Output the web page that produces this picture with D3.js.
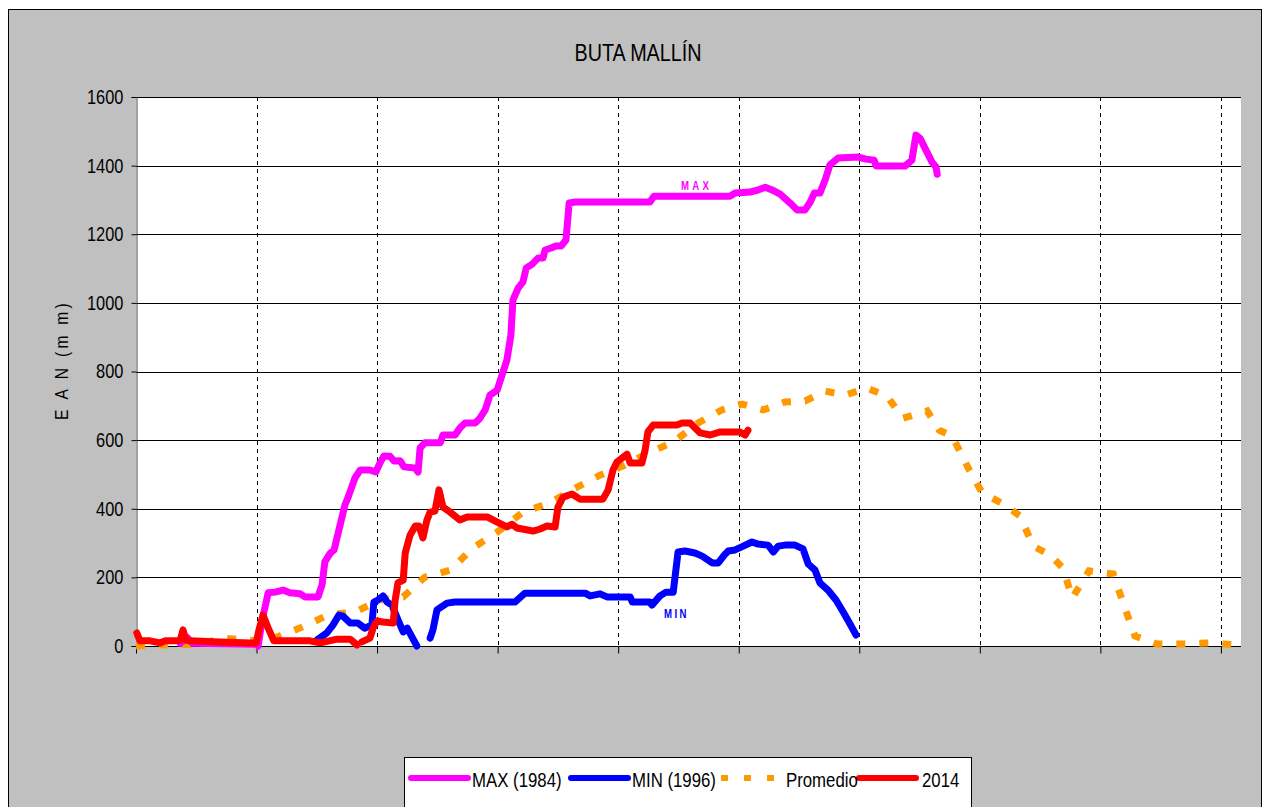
<!DOCTYPE html>
<html>
<head>
<meta charset="utf-8">
<script src="https://cdn.jsdelivr.net/npm/d3@7"></script>
<style>
  body { margin: 0; background: #fff; }
  svg text { font-family: "Liberation Sans", Arial, sans-serif; }
</style>
</head>
<body>
<svg id="chart"></svg>
<script>
// day of season (0 = start), EAN in mm
let maxDays = [11, 12.7, 14, 29.8, 30.4, 31.4, 32.9, 34.6, 36.6, 38.3, 40.8, 42.1, 45.3, 46.3, 47.0, 48.3, 49.3, 50.8, 52.0, 52.8, 54.5, 55.8, 58.2, 59.7, 60.7, 61.7, 63.2, 64.2, 65.7, 66.7, 69.4, 70.2, 70.7, 71.9, 75.7, 76.4, 79.4, 80.6, 81.9, 84.4, 85.6, 86.9, 88.1, 89.9, 91.1, 92.3, 93.3, 93.8, 95.1, 96.3, 97.1, 98.6, 100.1, 101.3, 101.8, 103.3, 104.5, 105.8, 107.0, 107.8, 109.3, 127.9, 128.9, 147.8, 149.1, 152.8, 154.8, 156.6, 158.3, 160.3, 162.8, 164.5, 166.5, 167.8, 168.8, 170.2, 171.5, 172.7, 174.7, 179.7, 181.7, 183.7, 184.2, 191.4, 193.1, 194.1, 195.1, 196.6, 198.1, 199.1, 199.4];
let maxVals = [8, 25, 8, 5, 0, 76, 155, 157, 163, 155, 152, 143, 143, 178, 245, 270, 280, 353, 411, 434, 490, 513, 513, 507, 533, 554, 553, 539, 540, 522, 519, 507, 577, 592, 592, 615, 615, 635, 650, 650, 664, 688, 731, 746, 790, 833, 906, 1008, 1043, 1061, 1101, 1113, 1131, 1131, 1154, 1160, 1166, 1166, 1183, 1291, 1294, 1294, 1311, 1311, 1320, 1323, 1329, 1337, 1329, 1317, 1291, 1271, 1271, 1294, 1320, 1320, 1358, 1402, 1422, 1425, 1419, 1416, 1399, 1399, 1416, 1489, 1480, 1445, 1410, 1396, 1375];

let minDays = [45.0, 47.5, 49.0, 50.5, 51.5, 53.3, 55.2, 56.9, 58.7, 59.2, 60.2, 61.5, 62.5, 63.7, 65.2, 66.5, 67.5, 68.7, 69.9, null, 73.2, 73.9, 74.9, 77.4, 79.4, 94.3, 96.8, 111.8, 113.0, 115.5, 117.2, 123.0, 123.5, 127.9, 128.4, 130.4, 131.9, 133.7, 134.9, 136.6, 139.1, 140.9, 143.4, 144.9, 146.4, 147.4, 149.1, 150.6, 153.3, 154.8, 157.3, 158.6, 159.8, 161.5, 164.0, 166.0, 167.3, 169.0, 170.2, 172.2, 174.2, 176.0, 177.7, 179.2];
let minVals = [17, 38, 61, 90, 87, 67, 67, 52, 61, 128, 134, 146, 128, 119, 76, 41, 52, 26, 0, null, 23, 47, 105, 125, 128, 128, 154, 154, 146, 152, 143, 143, 128, 128, 119, 146, 157, 157, 274, 277, 271, 262, 242, 242, 265, 277, 280, 288, 303, 297, 294, 274, 291, 294, 294, 283, 239, 221, 184, 163, 134, 99, 64, 32];

let avgDays = [0, 6.0, 15.9, 21.7, 27.6, 30.9, 35.1, 41.3, 47.8, 54.5, 60.7, 66.5, 71.9, 78.2, 83.9, 89.9, 96.3, 103.0, 109.3, 115.5, 121.7, 127.9, 133.7, 139.9, 145.8, 150.8, 156.1, 161.5, 166.5, 171.5, 176.5, 181.9, 186.9, 190.9, 196.9, 199.9, 203.1, 207.1, 210.6, 215.8, 220.0, 223.3, 227.5, 230.7, 233.0, 237.2, 243.2, 245.6, 248.6, 254.1, 260.6, 267.3, 273.8];
let avgVals = [0, 3, 5, 23, 17, 15, 26, 55, 90, 99, 134, 143, 201, 221, 286, 332, 390, 417, 460, 498, 527, 565, 594, 650, 688, 705, 688, 711, 714, 743, 731, 752, 728, 664, 685, 629, 612, 519, 446, 414, 379, 291, 265, 227, 140, 219, 210, 128, 29, 6, 6, 9, 3];

let y2014Days = [0.2, 1.0, 3.5, 6.0, 7.2, 9.7, 11.0, 11.7, 12.4, 13.4, 20.9, 28.4, 29.9, 30.6, 31.6, 32.9, 34.3, 37.1, 43.3, 45.8, 47.0, 50.0, 53.3, 55.0, null, 56.2, 58.2, 59.0, 60.0, 61.5, 64.0, 64.5, 65.2, 66.5, 67.0, 68.2, 69.5, 70.4, 71.4, 72.4, 73.2, 74.4, 75.4, 76.4, 78.2, 80.6, 82.4, 87.4, 89.9, 92.3, 93.6, 94.8, 98.8, 100.6, 102.3, 104.3, 105.0, 106.3, 108.5, 110.5, 116.2, 117.5, 118.7, 119.7, 122.2, 123.0, 125.9, 126.7, 127.4, 128.7, 134.6, 135.9, 137.9, 140.4, 142.9, 145.4, 150.3, 151.6, 152.3];
let y2014Vals = [38, 15, 15, 9, 15, 15, 17, 47, 17, 15, 12, 9, 9, 47, 90, 52, 15, 15, 15, 9, 12, 20, 20, 3, null, 12, 23, 52, 73, 70, 67, 134, 184, 192, 271, 323, 350, 350, 315, 367, 390, 393, 455, 405, 390, 367, 376, 376, 361, 347, 355, 344, 335, 341, 350, 347, 405, 434, 443, 428, 428, 455, 513, 536, 559, 533, 533, 571, 624, 644, 644, 650, 650, 621, 615, 624, 624, 615, 629];

let yTicks = [0, 200, 400, 600, 800, 1000, 1200, 1400, 1600];
let xTicks = [0, 30, 60, 90, 120, 150, 180, 210, 240, 270];
let seriesNames = ["MAX (1984)", "MIN (1996)", "Promedio", "2014"];
let seriesColors = ["#ff00ff", "#0000ff", "#ff9900", "#ff0000"];

let W = 1264, H = 807;
let mLeft = 136, mRight = 1241, mTop = 97, mBottom = 646;
let narrow = 0.82; // condensed look of the original text

let svg = d3.select("#chart").attr("width", W).attr("height", H);

svg.append("rect").attr("x", 8.5).attr("y", 9.5).attr("width", 1253).attr("height", 810)
  .attr("fill", "#c0c0c0").attr("stroke", "#000").attr("stroke-width", 1);

let x = d3.scaleLinear().domain([0, 275]).range([mLeft, mRight]);
let y = d3.scaleLinear().domain([0, 1600]).range([mBottom, mTop]);

svg.append("rect").attr("x", mLeft).attr("y", mTop).attr("width", mRight - mLeft).attr("height", mBottom - mTop)
  .attr("fill", "#fff");

// horizontal grid
svg.append("g").selectAll("line").data(yTicks.slice(1)).enter().append("line")
  .attr("x1", mLeft).attr("x2", mRight)
  .attr("y1", d => Math.round(y(d)) + 0.5).attr("y2", d => Math.round(y(d)) + 0.5)
  .attr("stroke", "#000").attr("stroke-width", 1);

// vertical dashed grid
svg.append("g").selectAll("line").data(xTicks.slice(1)).enter().append("line")
  .attr("x1", d => Math.round(x(d)) + 0.5).attr("x2", d => Math.round(x(d)) + 0.5)
  .attr("y1", mTop).attr("y2", mBottom)
  .attr("stroke", "#000").attr("stroke-width", 1).attr("stroke-dasharray", "4,4");

// axes
let yAxis = d3.axisLeft(y).tickValues(yTicks).tickSize(5).tickPadding(11).tickFormat(d3.format("d"));
let gy = svg.append("g").attr("transform", "translate(" + (mLeft + 0.5) + ",0)").call(yAxis);
gy.select(".domain").attr("stroke", "#444");
gy.selectAll("text").attr("font-size", 20).attr("fill", "#000")
  .attr("transform", "scale(" + narrow + ",1)");

let xAxis = d3.axisBottom(x).tickValues(xTicks).tickSize(7).tickFormat("");
let gx = svg.append("g").attr("transform", "translate(0," + (mBottom + 0.5) + ")").call(xAxis);
gx.select(".domain").attr("d", "M" + mLeft + ",0H" + mRight).attr("stroke", "#000");

// lines
let line = d3.line()
  .defined(d => d[1] !== null)
  .x(d => x(d[0]))
  .y(d => y(d[1]));

function pairs(xs, ys) { return xs.map((d, i) => [d, ys[i]]); }

let plot = svg.append("g");
plot.append("path").datum(pairs(avgDays, avgVals)).attr("d", line)
  .attr("fill", "none").attr("stroke", seriesColors[2]).attr("stroke-width", 7)
  .attr("stroke-dasharray", "9,14");
plot.append("path").datum(pairs(maxDays, maxVals)).attr("d", line)
  .attr("fill", "none").attr("stroke", seriesColors[0]).attr("stroke-width", 7)
  .attr("stroke-linejoin", "round").attr("stroke-linecap", "round");
plot.append("path").datum(pairs(minDays, minVals)).attr("d", line)
  .attr("fill", "none").attr("stroke", seriesColors[1]).attr("stroke-width", 7)
  .attr("stroke-linejoin", "round").attr("stroke-linecap", "round");
plot.append("path").datum(pairs(y2014Days, y2014Vals)).attr("d", line)
  .attr("fill", "none").attr("stroke", seriesColors[3]).attr("stroke-width", 7)
  .attr("stroke-linejoin", "round").attr("stroke-linecap", "round");

function label(px, py, txt, size, sx, anchor) {
  return svg.append("text")
    .attr("transform", "translate(" + px + "," + py + ") scale(" + sx + ",1)")
    .attr("text-anchor", anchor || "start")
    .attr("font-size", size).attr("fill", "#000").text(txt);
}

// inline labels
label(x(139.5), y(1330), "MAX", 12, 0.8, "middle")
  .attr("font-weight", "bold").attr("letter-spacing", 4).attr("fill", "#ff00ff");
label(x(134.5), y(82), "MIN", 12, 0.8, "middle")
  .attr("font-weight", "bold").attr("letter-spacing", 3).attr("fill", "#0000ff");

// title
label(638, 61, "BUTA MALLÍN", 23, 0.86, "middle");

// y label
svg.append("text").attr("transform", "translate(68,360) rotate(-90) scale(" + narrow + ",1)")
  .attr("text-anchor", "middle").attr("letter-spacing", 4)
  .attr("font-size", 19).attr("fill", "#000").text("E A N  (m m)");

// legend
let lg = svg.append("g");
lg.append("rect").attr("x", 404.5).attr("y", 757.5).attr("width", 567).attr("height", 60)
  .attr("fill", "#fff").attr("stroke", "#000");
let legendX = [408, 568, 718, 856];
let legendTextX = [472, 632, 786, 922];
lg.selectAll(".sw").data(seriesNames).enter().append("line")
  .attr("x1", (d, i) => legendX[i] + 3).attr("x2", (d, i) => legendX[i] + 60)
  .attr("y1", 778).attr("y2", 778)
  .attr("stroke", (d, i) => seriesColors[i]).attr("stroke-width", 6)
  .attr("stroke-linecap", (d, i) => i === 2 ? "butt" : "round")
  .attr("stroke-dasharray", (d, i) => i === 2 ? "7,16" : null);
seriesNames.forEach((d, i) => label(legendTextX[i], 787, d, 20, 0.84));
</script>
</body>
</html>
